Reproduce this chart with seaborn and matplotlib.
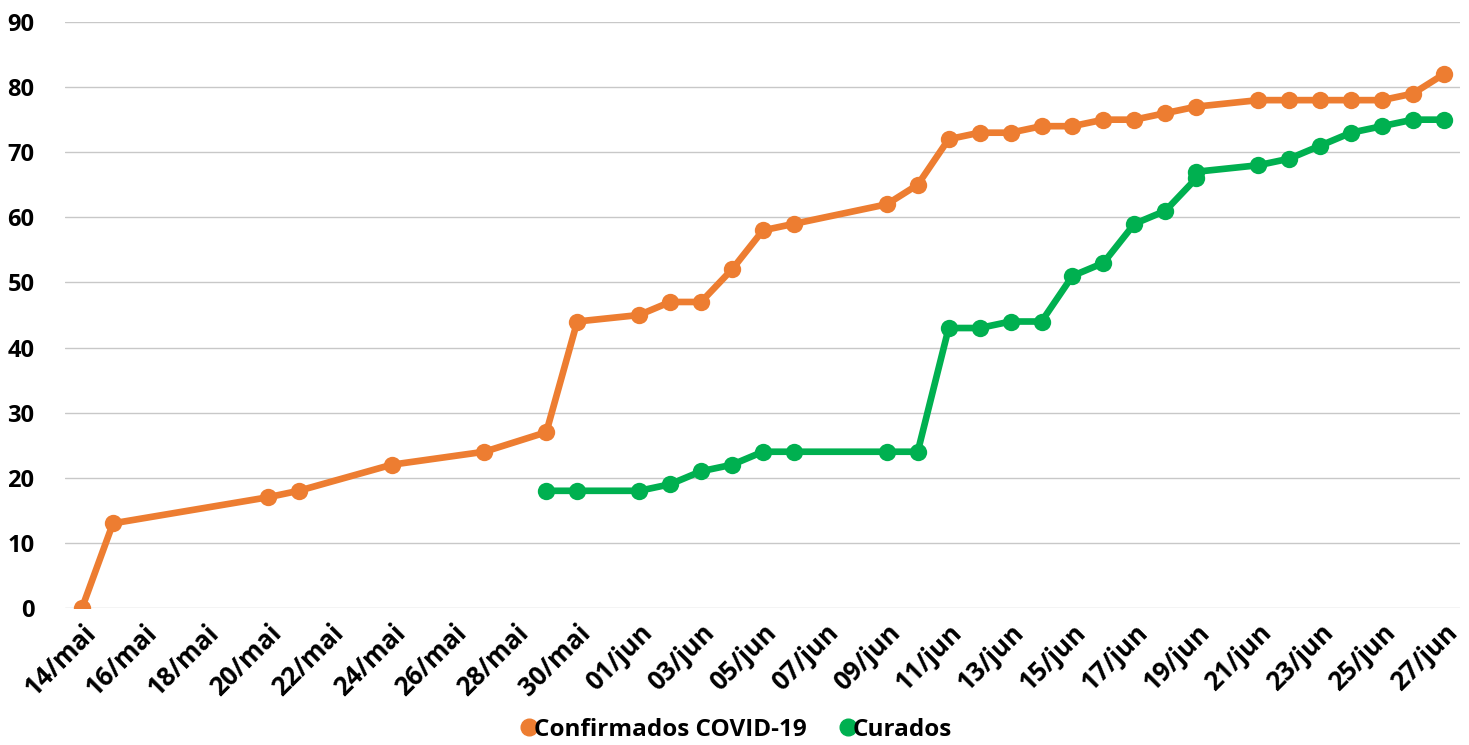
import matplotlib
matplotlib.use("Agg")
import matplotlib.pyplot as plt
import matplotlib.dates as mdates
import seaborn as sns
import pandas as pd
import numpy as np
from matplotlib.lines import Line2D

conf_dates = ["2020-05-14", "2020-05-15", "2020-05-20", "2020-05-21", "2020-05-24", "2020-05-27",
              "2020-05-29", "2020-05-30", "2020-06-01", "2020-06-02", "2020-06-03", "2020-06-04",
              "2020-06-05", "2020-06-06", "2020-06-09", "2020-06-10", "2020-06-11", "2020-06-12",
              "2020-06-13", "2020-06-14", "2020-06-15", "2020-06-16", "2020-06-17", "2020-06-18",
              "2020-06-19", "2020-06-21", "2020-06-22", "2020-06-23", "2020-06-24", "2020-06-25",
              "2020-06-26", "2020-06-27"]
conf_values = [0, 13, 17, 18, 22, 24, 27, 44, 45, 47, 47, 52, 58, 59, 62, 65, 72, 73, 73, 74, 74,
               75, 75, 76, 77, 78, 78, 78, 78, 78, 79, 82]

cur_dates = ["2020-05-29", "2020-05-30", "2020-06-01", "2020-06-02", "2020-06-03", "2020-06-04",
             "2020-06-05", "2020-06-06", "2020-06-09", "2020-06-10", "2020-06-11", "2020-06-12",
             "2020-06-13", "2020-06-14", "2020-06-15", "2020-06-16", "2020-06-17", "2020-06-18",
             "2020-06-19", "2020-06-19", "2020-06-21", "2020-06-22", "2020-06-23", "2020-06-24",
             "2020-06-25", "2020-06-26", "2020-06-27"]
cur_values = [18, 18, 18, 19, 21, 22, 24, 24, 24, 24, 43, 43, 44, 44, 51, 53, 59, 61, 66, 67,
              68, 69, 71, 73, 74, 75, 75]

series_names = ["Confirmados COVID-19", "Curados"]
colors = ["#ED7D31", "#00B050"]
y_ticks = list(range(0, 91, 10))

df = pd.concat([
    pd.DataFrame({"data": pd.to_datetime(conf_dates), "valor": conf_values, "serie": series_names[0]}),
    pd.DataFrame({"data": pd.to_datetime(cur_dates), "valor": cur_values, "serie": series_names[1]}),
], ignore_index=True)

sns.set_theme(style="white")
plt.rcParams["font.family"] = ["Open Sans", "DejaVu Sans"]
plt.rcParams["text.color"] = "black"
plt.rcParams["xtick.color"] = "black"
plt.rcParams["ytick.color"] = "black"

fig = plt.figure(figsize=(14.69, 7.45), dpi=100)
ax = fig.add_axes([65 / 1469, 1 - 608 / 745, 1395 / 1469, (608 - 22) / 745])

for name, col in zip(series_names, colors):
    sub = df[df["serie"] == name]
    sns.lineplot(data=sub, x="data", y="valor", ax=ax, color=col, linewidth=4.8,
                 marker="o", markersize=12.5, markeredgewidth=0, estimator=None, sort=False,
                 legend=False)

start = pd.Timestamp("2020-05-14")
end = pd.Timestamp("2020-06-27")
ax.set_xlim(start - pd.Timedelta(days=0.55), end + pd.Timedelta(days=0.52))
ax.set_ylim(0, 90)
ax.set_yticks(y_ticks)
ticks = pd.date_range(start, end, freq="2D")
ax.set_xticks(ticks)
ax.set_xticklabels([f"{d.day:02d}/{'mai' if d.month == 5 else 'jun'}" for d in ticks],
                   rotation=45, ha="right", rotation_mode="anchor", fontsize=18.5, fontweight="bold")
for t in ax.get_yticklabels():
    t.set_fontsize(17)
    t.set_fontweight("bold")
ax.tick_params(axis="y", pad=22, length=0)
ax.tick_params(axis="x", pad=8, length=0)
ax.yaxis.grid(True, color="#C8C8C8", linewidth=1)
ax.xaxis.grid(False)
for s in ax.spines.values():
    s.set_visible(False)
ax.set_xlabel("")
ax.set_ylabel("")
ax.set_axisbelow(True)

handles = [Line2D([], [], color=c, marker="o", linestyle="none", markersize=12) for c in colors]
fig.legend(handles, series_names, loc="lower center", bbox_to_anchor=(0.5, -0.025), ncol=2,
           frameon=False, prop={"size": 17.5, "weight": "bold"}, handletextpad=-0.3,
           columnspacing=1.2, handlelength=1.0)

fig.savefig("out.png", dpi=100)
